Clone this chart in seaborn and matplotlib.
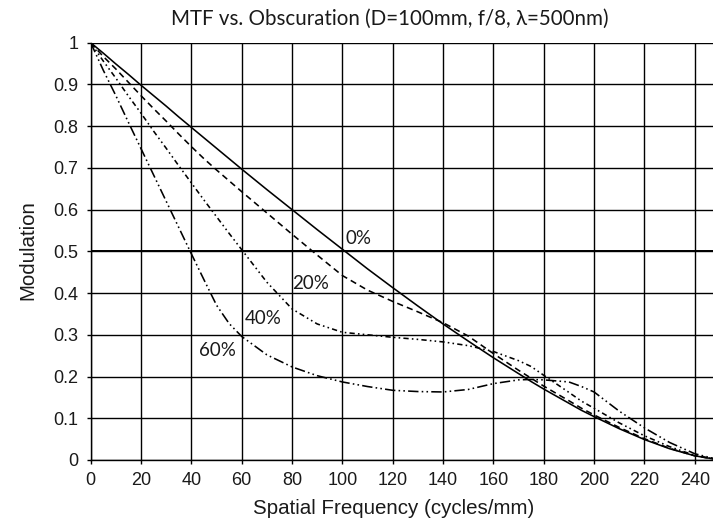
import numpy as np
import pandas as pd
import seaborn as sns
import matplotlib.pyplot as plt

# values
freq = [0, 5, 10, 15, 20, 25, 30, 35, 40, 45, 50, 55, 60, 70, 80, 90, 100, 110, 120,
        130, 140, 150, 160, 170, 175, 180, 190, 195, 200, 210, 220, 230, 240, 250]

mtf_0 = [1.000, 0.975, 0.949, 0.924, 0.898, 0.873, 0.848, 0.822, 0.797, 0.772, 0.747, 0.722,
         0.697, 0.648, 0.600, 0.552, 0.505, 0.458, 0.413, 0.369, 0.326, 0.285, 0.245, 0.207,
         0.188, 0.170, 0.136, 0.119, 0.104, 0.075, 0.049, 0.027, 0.010, 0.000]
mtf_20 = [1.000, 0.967, 0.937, 0.905, 0.873, 0.842, 0.812, 0.781, 0.751, 0.722, 0.695, 0.669,
          0.643, 0.592, 0.541, 0.491, 0.442, 0.407, 0.380, 0.355, 0.329, 0.297, 0.255, 0.215,
          0.196, 0.177, 0.142, 0.124, 0.108, 0.078, 0.051, 0.028, 0.010, 0.000]
mtf_40 = [1.000, 0.956, 0.915, 0.872, 0.831, 0.788, 0.747, 0.705, 0.664, 0.623, 0.583, 0.543,
          0.504, 0.426, 0.362, 0.326, 0.306, 0.300, 0.294, 0.289, 0.283, 0.274, 0.260, 0.238,
          0.224, 0.203, 0.162, 0.141, 0.124, 0.089, 0.058, 0.032, 0.011, 0.000]
mtf_60 = [1.000, 0.934, 0.873, 0.809, 0.746, 0.683, 0.620, 0.557, 0.494, 0.432, 0.371, 0.327,
          0.296, 0.252, 0.223, 0.202, 0.187, 0.176, 0.167, 0.164, 0.163, 0.169, 0.183, 0.192,
          0.193, 0.192, 0.187, 0.176, 0.163, 0.117, 0.077, 0.042, 0.015, 0.000]

obsc = ['0%', '20%', '40%', '60%']
y_ticklabels = ['0', '0.1', '0.2', '0.3', '0.4', '0.5', '0.6', '0.7', '0.8', '0.9', '1']

# where the curve names sit (data coords)
label_x = [106.4, 87.5, 68.7, 50.3]
label_y = [0.531, 0.423, 0.339, 0.262]

df = pd.concat([pd.DataFrame({'freq': freq, 'mtf': v, 'obsc': o})
                for v, o in zip([mtf_0, mtf_20, mtf_40, mtf_60], obsc)])

sns.set_style('ticks')
plt.rcParams['font.family'] = ['Liberation Sans', 'DejaVu Sans']

fig = plt.figure(figsize=(7.13, 5.22), dpi=100)
ax = fig.add_axes([0.1272, 0.1188, 0.8825, 0.7994])

dash_map = {'0%': '', '20%': (3.9, 2.6),
            '40%': (3.3, 2.0, 1.0, 2.0, 1.0, 2.0),
            '60%': (6.5, 2.0, 1.0, 2.0, 1.0, 2.0)}
sns.lineplot(data=df, x='freq', y='mtf', style='obsc', dashes=dash_map, color='black',
             linewidth=1.15, legend=False, estimator=None, sort=False, ax=ax)

ax.set_xlim(0, 250)
ax.set_ylim(0, 1)
ax.set_xticks(range(0, 241, 20))
ax.set_yticks(np.arange(0, 1.01, 0.1))
ax.set_yticklabels(y_ticklabels)
ax.set_axisbelow(True)
ax.grid(True, color='black', linewidth=1.0)
ax.axhline(0.5, color='black', linewidth=1.4, zorder=0.5)
for s in ['top', 'right']:
    ax.spines[s].set_visible(False)
for s in ['left', 'bottom']:
    ax.spines[s].set_color('black')
    ax.spines[s].set_linewidth(1.0)
ax.tick_params(direction='out', length=3, width=1, color='black', labelsize=13,
               labelcolor='#1a1a1a', pad=6)
ax.set_xlabel('')
ax.set_ylabel('')

for t, lx, ly in zip(obsc, label_x, label_y):
    ax.text(lx, ly, t, ha='center', va='center', fontsize=13.5,
            family=['Lato', 'DejaVu Sans'], color='#1a1a1a')

fig.text(390 / 713, 1 - 19 / 522, 'MTF vs. Obscuration (D=100mm, f/8, \u03bb=500nm)',
         ha='center', va='center', fontsize=14.8, family=['Lato', 'DejaVu Sans'], color='#1a1a1a')
fig.text(394 / 713, 1 - 508 / 522, 'Spatial Frequency (cycles/mm)', ha='center', va='center',
         fontsize=14.8, color='#1a1a1a')
fig.text(28 / 713, 1 - 250 / 522, 'Modulation', ha='center', va='center', rotation=90,
         fontsize=14.8, color='#1a1a1a')

fig.savefig('out.png', dpi=100)
